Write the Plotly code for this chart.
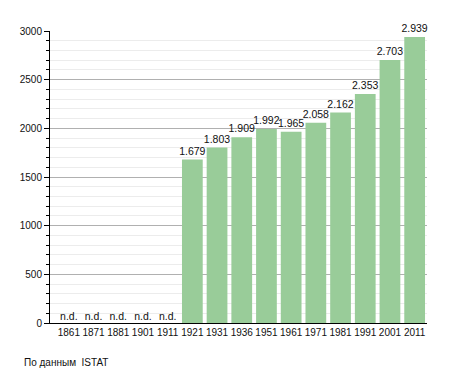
import plotly.graph_objects as go

years = ["1861", "1871", "1881", "1901", "1911", "1921", "1931", "1936",
         "1951", "1961", "1971", "1981", "1991", "2001", "2011"]
population = [None, None, None, None, None, 1679, 1803, 1909,
              1992, 1965, 2058, 2162, 2353, 2703, 2939]
y_ticks = [0, 500, 1000, 1500, 2000, 2500, 3000]
source_note = "По данным  ISTAT"

bar_x = [y for y, v in zip(years, population) if v is not None]
bar_y = [v for v in population if v is not None]
bar_text = [f"{v:,}".replace(",", ".") for v in bar_y]
nd_x = [y for y, v in zip(years, population) if v is None]

fam = "Liberation Sans, Arial, sans-serif"
font = dict(family=fam, size=10, color="#111")

fig = go.Figure()
fig.add_trace(go.Bar(
    x=bar_x, y=bar_y, text=bar_text, textposition="outside",
    constraintext="none",
    textfont=dict(family=fam, size=10.5, color="#111"),
    marker=dict(color="#99cc99", line=dict(width=0)),
    cliponaxis=False, hoverinfo="skip",
))
fig.add_trace(go.Scatter(
    x=nd_x, y=[0] * len(nd_x), mode="text", text=["n.d."] * len(nd_x),
    textposition="top center",
    textfont=dict(family=fam, size=10.5, color="#111"),
    hoverinfo="skip",
))

fig.update_layout(
    width=455, height=373,
    margin=dict(l=50, r=28, t=31, b=50, autoexpand=False),
    paper_bgcolor="white", plot_bgcolor="white",
    showlegend=False, bargap=0.16,
    font=font,
    xaxis=dict(
        type="category", categoryorder="array", categoryarray=years,
        showline=True, linecolor="#000", linewidth=1,
        ticks="", showgrid=False, tickangle=0, automargin=False,
        tickfont=dict(family=fam, size=10, color="#111"),
    ),
    yaxis=dict(
        range=[0, 3000], tickvals=y_ticks, automargin=False,
        showline=True, linecolor="#000", linewidth=1,
        ticks="outside", ticklen=5, tickcolor="#000",
        gridcolor="#b0b0b0", gridwidth=1, zeroline=False,
        tickfont=dict(family=fam, size=10, color="#111"),
        minor=dict(dtick=100, ticks="outside", ticklen=3, tickcolor="#000",
                   showgrid=True, gridcolor="#ececec", gridwidth=1),
    ),
    annotations=[dict(
        text=source_note, xref="paper", yref="paper",
        x=-0.074, y=-0.134, xanchor="left", yanchor="middle",
        showarrow=False, font=dict(family=fam, size=10, color="#111"),
    )],
)

fig.write_html("out.html", config={"displayModeBar": False},
               post_script="document.body.style.margin='0';document.body.style.overflow='hidden';")
